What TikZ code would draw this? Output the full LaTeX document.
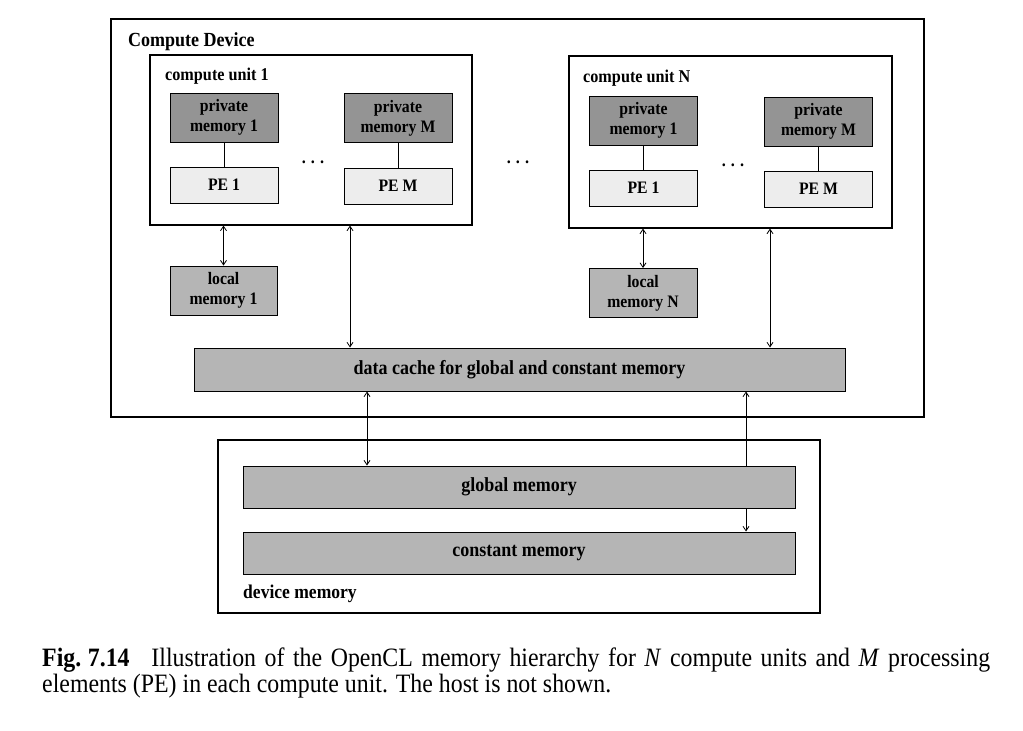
\documentclass[tikz,border=0pt]{standalone}
\usepackage{fontspec}
\setmainfont[FakeStretch=0.9]{Liberation Serif}
\usetikzlibrary{arrows.meta}

\definecolor{privgray}{gray}{0.58}
\definecolor{memgray}{gray}{0.71}
\definecolor{pegray}{gray}{0.93}

\newcommand{\threedots}{\textbf{.\hspace{5pt}.\hspace{5pt}.}}

\begin{document}
\begin{tikzpicture}[x=1pt, y=-1pt, line join=miter, >={Straight Barb[length=4.5pt,width=6pt]},
  frame/.style={draw, line width=1.1pt, inner sep=0pt},
  lbl/.style={anchor=base west, inner sep=0pt, font=\fontsize{18}{20}\selectfont\bfseries},
  pmem/.style={draw, line width=1pt, fill=privgray, minimum width=108, minimum height=49,
    inner sep=0pt, align=center, font=\fontsize{17.5}{20}\selectfont\bfseries},
  pebox/.style={pmem, fill=pegray, minimum height=36},
  lmem/.style={pmem, fill=memgray},
  bar/.style={pmem, fill=memgray, minimum height=42, font=\fontsize{20}{22}\selectfont\bfseries},
  dotsnode/.style={anchor=base, inner sep=0pt, font=\fontsize{18}{20}\selectfont},
  link/.style={line width=0.8pt}]
  \useasboundingbox (0,0) rectangle (1023,731);

  % --- compute device ---
  \node[frame, minimum width=813, minimum height=398] (dev) at (517.5,218) {};
  \node[lbl, font=\fontsize{20}{22}\selectfont\bfseries] (devlbl) at (128,46) {Compute Device};

  % --- compute unit 1 ---
  \node[frame, minimum width=322, minimum height=170] (cu1) at (311,140) {};
  \node[lbl] (cu1lbl) at (165,80) {compute unit 1};
  \node[pmem] (pm11) at (224,117.5) {private\\memory 1};
  \node[pebox] (pe11) at (224,185) {PE 1};
  \node[pmem] (pm1M) at (398,118) {private\\memory M};
  \node[pebox] (pe1M) at (398,186) {PE M};
  \draw[link] (pm11) -- (pe11);
  \draw[link] (pm1M) -- (pe1M);
  \node[dotsnode] (dots1) at (313,163) {\threedots};

  \node[dotsnode] (dotsc) at (518,163) {\threedots};

  % --- compute unit N ---
  \node[frame, minimum width=323, minimum height=172] (cun) at (730.5,142) {};
  \node[lbl] (cunlbl) at (583,82) {compute unit N};
  \node[pmem] (pmN1) at (643.5,120.5) {private\\memory 1};
  \node[pebox] (peN1) at (643.5,188) {PE 1};
  \node[pmem] (pmNM) at (818.5,121.5) {private\\memory M};
  \node[pebox] (peNM) at (818.5,189) {PE M};
  \draw[link] (pmN1) -- (peN1);
  \draw[link] (pmNM) -- (peNM);
  \node[dotsnode] (dotsN) at (733,166) {\threedots};

  % --- local memories and cache ---
  \node[lmem, minimum width=107] (lm1) at (223.5,290.5) {local\\memory 1};
  \node[lmem] (lmN) at (643,293) {local\\memory N};
  \node[bar, minimum width=651, minimum height=43] (cache) at (519.5,369.5)
    {data cache for global and constant memory};

  \coordinate (a1) at (350,0);
  \coordinate (aN) at (770,0);
  \draw[link,<->] (lm1.north) -- (lm1.north |- cu1.south);
  \draw[link,<->] (a1 |- cu1.south) -- (a1 |- cache.north);
  \draw[link,<->] (lmN.north) -- (lmN.north |- cun.south);
  \draw[link,<->] (aN |- cun.south) -- (aN |- cache.north);

  % --- device memory ---
  \node[frame, minimum width=602, minimum height=173] (devmem) at (519,526.5) {};
  \node[lbl, font=\fontsize{19.5}{22}\selectfont\bfseries] (devmemlbl) at (243,598) {device memory};
  \node[bar, minimum width=552] (const) at (519,553) {constant memory};
  \coordinate (g1) at (367,0);
  \coordinate (k1) at (746,0);
  \draw[link,<->] (k1 |- cache.south) -- (k1 |- const.north);
  \node[bar, minimum width=552] (glob) at (519,487) {global memory};
  \draw[link,<->] (g1 |- cache.south) -- (g1 |- glob.north);

  % --- caption ---
  \node[anchor=base west, inner sep=0pt, font=\fontsize{26.5}{26}\selectfont] (cap1) at (42,666)
    {\makebox[948pt][s]{\textbf{Fig.\kern0.25em7.14}\hspace{0.5em} Illustration of the OpenCL memory hierarchy for \textit{N} compute units and \textit{M} processing}};
  \node[anchor=base west, inner sep=0pt, font=\fontsize{26.5}{26}\selectfont] (cap2) at (42,692)
    {elements (PE) in each compute unit. The host is not shown.};
\end{tikzpicture}
\end{document}
